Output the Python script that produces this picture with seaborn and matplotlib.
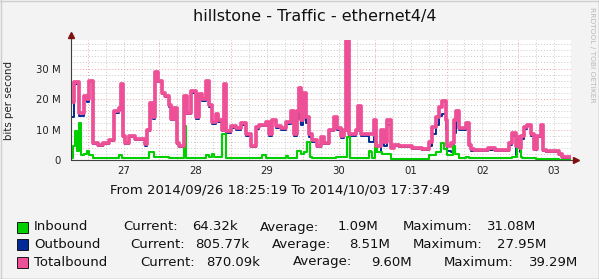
import matplotlib
matplotlib.use("Agg")
import matplotlib.pyplot as plt
import matplotlib.dates as mdates
from matplotlib.ticker import MultipleLocator, FuncFormatter, NullFormatter
from matplotlib.lines import Line2D
from matplotlib.patches import Rectangle
import pandas as pd
import seaborn as sns

sns.set_style("white")
plt.rcParams["font.family"] = ["DejaVu Sans"]

# ---------------- data ----------------
title = "hillstone - Traffic - ethernet4/4"
start = pd.Timestamp("2014-09-26 18:25:19")
end = pd.Timestamp("2014-10-03 17:37:49")

# breakpoints (hours since start) for Totalbound / Outbound, values in Mbit/s
total_hours = [0, 1.0, 2.7, 4.3, 5.4, 6.0, 7.2, 9.0, 10.7, 12.7, 14.4, 16.1, 16.7, 17.4, 18.1, 19.4,
               21.4, 24.7, 25.4, 26.4, 27.4, 28.1, 29.1, 30.4, 31.4, 32.8, 33.4, 34.4, 35.5, 36.1,
               37.8, 38.8, 40.1, 41.8, 42.8, 43.8, 45.1, 46.2, 47.2, 48.5, 49.2, 50.5, 51.2, 51.8,
               53.5, 55.2, 56.9, 58.5, 60.2, 61.9, 62.9, 65.2, 66.2, 67.2, 68.6, 70.2, 71.9, 73.6,
               74.6, 75.6, 76.3, 76.9, 77.6, 78.6, 79.6, 80.6, 82.3, 83.6, 84.6, 86.3, 88.0, 89.0,
               90.3, 91.3, 92.0, 93.0, 95.3, 96.0, 97.0, 99.7, 101.3, 102.0, 103.7, 104.7, 105.7,
               107.0, 108.0, 109.7, 114.0, 117.4, 119.7, 120.7, 122.1, 123.1, 124.1, 125.4, 125.8,
               127.1, 128.1, 128.8, 129.8, 132.1, 133.1, 133.8, 134.8, 139.5, 141.8, 146.5, 147.5,
               148.8, 149.2, 150.2, 150.5, 151.5, 152.5, 153.8, 154.8, 155.9, 157.2, 157.9, 158.9,
               163.2, 164.2, 167.2]
total_mbps = [19, 25.5, 15.5, 21, 20, 26, 5.5, 4.9, 5.5, 6.5, 16, 17, 25, 8, 5.6, 8,
              7, 5.2, 10, 18.7, 14, 29, 26, 22, 21, 18, 13.5, 17, 5.7, 4.6,
              21, 15.5, 22.6, 14, 21.6, 20, 26, 18, 12.5, 15, 13, 10, 25, 9.5,
              11, 10.4, 12, 8.5, 4.6, 10.8, 11.5, 12.5, 8.5, 13.2, 11, 10.5, 12.5, 16,
              8.5, 16, 23.7, 13, 22, 14, 8.5, 6.5, 4.5, 7.7, 5.5, 10, 14, 10.5,
              7.8, 10, 39.3, 8.5, 10, 17.7, 8.5, 8.5, 13, 4.5, 10, 6, 13,
              4, 5, 4.5, 4, 3.5, 6, 10.8, 14, 17.5, 19.3, 13, 4.5,
              5.5, 13, 16, 10.5, 12, 5, 3.5, 3.3, 3.8, 3.3, 5.5, 8.8,
              4.5, 7.5, 4, 7.8, 10.8, 11.5, 8.5, 3.5, 7.8, 11.5, 3.3, 3,
              2, 0.87, 0.87]
outbound_mbps = [14, 24.8, 14.5, 20.4, 19, 25.5, 5.1, 4.5, 5.1, 6.1, 15.4, 16.5, 24.5, 7.6, 5.2, 7.6,
                 6.5, 4.6, 9.4, 17.5, 13.3, 28.4, 25.5, 21.5, 20.5, 17.5, 13, 16.5, 5.3, 4.2,
                 20.4, 15, 22, 13.5, 21, 19.5, 25, 17.3, 11.8, 14.5, 12.5, 9.5, 17, 9,
                 10.5, 10, 11.5, 8, 4.2, 10.3, 11, 12, 8, 12.7, 10.5, 10, 11.7, 15.5,
                 8, 13.5, 21.5, 11.5, 20, 12, 7.5, 6, 4.1, 7.2, 5.1, 9.5, 13.4, 10,
                 7.3, 9.5, 27.9, 8, 9.5, 17.2, 8, 6, 7.5, 2.5, 8, 4.5, 11.5,
                 3.8, 4.7, 4.2, 3.7, 3.2, 4.5, 8.5, 11.5, 14.5, 15, 10, 2.8,
                 2.5, 9, 14, 9.7, 11, 4.5, 3, 2.8, 3.3, 2.8, 5, 7.8,
                 1.5, 4, 2.5, 6.8, 10.3, 11, 8, 3.2, 7.5, 11.2, 3, 2.7,
                 1.8, 0.81, 0.81]

inbound_hours = [0, 0.67, 1.34, 2.0, 2.7, 3.3, 4.3, 5.4, 6.0, 7.4, 16.1, 17.1, 26.1, 27.8, 32.8,
                 37.8, 38.5, 45.1, 46.2, 47.2, 47.8, 50.5, 51.8, 63.9, 65.2, 71.9, 72.6, 75.6,
                 76.9, 77.9, 78.9, 79.9, 80.6, 88.6, 92.3, 93.3, 99.7, 100.3, 100.7, 101.7,
                 102.3, 104.0, 107.0, 119.7, 122.1, 123.7, 124.7, 125.8, 127.8, 128.4, 129.8,
                 132.1, 133.1, 147.5, 149.2, 150.5, 150.8, 155.5, 163.2, 167.2]
inbound_mbps = [0.5, 4.5, 9.5, 3, 12, 1.5, 2, 3, 1.5, 0.5, 1.5, 0.6, 2.5, 1, 0.7,
                11, 0.8, 1.5, 1, 2, 1, 8.5, 0.6, 1.5, 0.6, 1.2, 0.6, 3,
                2, 2.5, 6, 1, 0.6, 1, 7.5, 0.8, 3, 2.5, 0.5, 6,
                2.5, 2, 0.2, 1.5, 2.5, 5.5, 3.5, 1.7, 4.5, 2, 0.8,
                1, 0.5, 1, 3.8, 1, 0.5, 0.3, 0.1, 0.064]

series_names = ["Inbound", "Outbound", "Totalbound"]
series_colors = ["#00CF00", "#002A97", "#EE5097"]
current_vals = ["64.32k", "805.77k", "870.09k"]
average_vals = ["1.09M", "8.51M", "9.60M"]
maximum_vals = ["31.08M", "27.95M", "39.29M"]
y_ticks = [0, 10, 20, 30]
y_tick_labels = ["0", "10 M", "20 M", "30 M"]

# ---------------- figure ----------------
W, H = 599, 279
fig = plt.figure(figsize=(W / 100, H / 100), dpi=100, facecolor="#f3f3f3")


def fx(px):
    return px / W


def fy(py):
    return 1 - py / H


ax = fig.add_axes([fx(71), fy(160), 500 / W, 120 / H])
ax.set_facecolor("white")

df_in = pd.DataFrame({"t": start + pd.to_timedelta(inbound_hours, unit="h"), "v": inbound_mbps})
df_out = pd.DataFrame({"t": start + pd.to_timedelta(total_hours, unit="h"), "v": outbound_mbps})
df_tot = pd.DataFrame({"t": start + pd.to_timedelta(total_hours, unit="h"), "v": total_mbps})

sns.lineplot(data=df_out, x="t", y="v", ax=ax, color=series_colors[1], lw=1.4,
             drawstyle="steps-post", estimator=None, zorder=3)
sns.lineplot(data=df_in, x="t", y="v", ax=ax, color=series_colors[0], lw=1.5,
             drawstyle="steps-post", estimator=None, zorder=4)
sns.lineplot(data=df_tot, x="t", y="v", ax=ax, color=series_colors[2], lw=2.7,
             drawstyle="steps-post", estimator=None, zorder=5)

ax.set_xlim(start, end)
ax.set_ylim(0, 39.35)
ax.set_xlabel("")
ax.set_ylabel("")

# x grid / ticks
ax.xaxis.set_major_locator(mdates.DayLocator())
ax.xaxis.set_minor_locator(mdates.HourLocator(byhour=[6, 12, 18]))
ax.xaxis.set_major_formatter(NullFormatter())


def minor_fmt(v, pos):
    d = mdates.num2date(v)
    return d.strftime("%d") if d.hour == 12 else ""


ax.xaxis.set_minor_formatter(FuncFormatter(minor_fmt))

# y grid / ticks
ax.yaxis.set_major_locator(MultipleLocator(10))
ax.yaxis.set_minor_locator(MultipleLocator(2))
ax.set_yticks(y_ticks)
ax.set_yticklabels(y_tick_labels)
ax.yaxis.set_minor_formatter(NullFormatter())

ax.grid(which="major", color="#f0a0a0", linestyle=(0, (1, 2)), lw=0.7, zorder=1)
ax.grid(which="minor", color="#c8c8c8", linestyle=(0, (1, 2)), lw=0.7, zorder=1)
ax.set_axisbelow(True)

ax.tick_params(axis="both", which="both", length=2, width=0.6, color="#aaaaaa", direction="out")
ax.tick_params(axis="y", which="major", labelsize=7.3, pad=5.2, labelcolor="#222222")
ax.tick_params(axis="x", which="minor", labelsize=7.3, pad=2.5, labelcolor="#222222")

for s in ax.spines.values():
    s.set_visible(False)

# axis lines + arrows
ax.add_line(Line2D([0, 0], [0, 1 + 5 / 120], transform=ax.transAxes, color="#404040",
                   lw=0.8, clip_on=False, zorder=6))
ax.add_line(Line2D([0, 1 + 4 / 500], [0, 0], transform=ax.transAxes, color="#404040",
                   lw=0.8, clip_on=False, zorder=6))
ax.plot([0], [1 + 5 / 120], marker="^", ms=4.5, color="#7f1010", transform=ax.transAxes,
        clip_on=False, zorder=7)
ax.plot([1 + 5 / 500], [0], marker=">", ms=4.5, color="#7f1010", transform=ax.transAxes,
        clip_on=False, zorder=7)

# texts
fig.text(fx(315), fy(16), title, ha="center", va="center", fontsize=11.5, color="#111111")
fig.text(fx(9), fy(100), "bits per second", rotation=90, ha="center", va="center",
         fontsize=7.4, color="#222222")
fig.text(fx(592), fy(55), "RRDTOOL / TOBI OETIKER", rotation=270, ha="center", va="center",
         fontsize=5.4, color="#b8b8b8")
fig.text(fx(280), fy(190), f"From {start:%Y/%m/%d %H:%M:%S} To {end:%Y/%m/%d %H:%M:%S}",
         ha="center", va="center", fontsize=9.5, color="#111111")

# legend
row_y = [227, 244.5, 262]
col_x = [[123, 192, 260, 338, 403, 487],
         [130, 195, 272, 349, 413, 497],
         [140, 206, 293, 371, 444, 529]]
for i, name in enumerate(series_names):
    y = row_y[i]
    fig.add_artist(Rectangle((fx(17), fy(y + 5.5)), 11 / W, 11 / H, transform=fig.transFigure,
                             facecolor=series_colors[i], edgecolor="black", lw=0.6))
    parts = [name, "Current:", current_vals[i], "Average:", average_vals[i], "Maximum:", maximum_vals[i]]
    xs = [34] + col_x[i]
    for xp, txt in zip(xs, parts):
        fig.text(fx(xp), fy(y), txt, ha="left", va="center", fontsize=9.5, color="#111111")

# outer border
fig.add_artist(Line2D([0, 1], [1 - 0.5 / H, 1 - 0.5 / H], transform=fig.transFigure, color="#cfcfcf", lw=1))
fig.add_artist(Line2D([0.5 / W, 0.5 / W], [0, 1], transform=fig.transFigure, color="#cfcfcf", lw=1))
fig.add_artist(Line2D([0, 1], [0.5 / H, 0.5 / H], transform=fig.transFigure, color="#9e9e9e", lw=1))
fig.add_artist(Line2D([1 - 0.5 / W, 1 - 0.5 / W], [0, 1], transform=fig.transFigure, color="#9e9e9e", lw=1))

fig.savefig("out.png", dpi=100, facecolor=fig.get_facecolor())
